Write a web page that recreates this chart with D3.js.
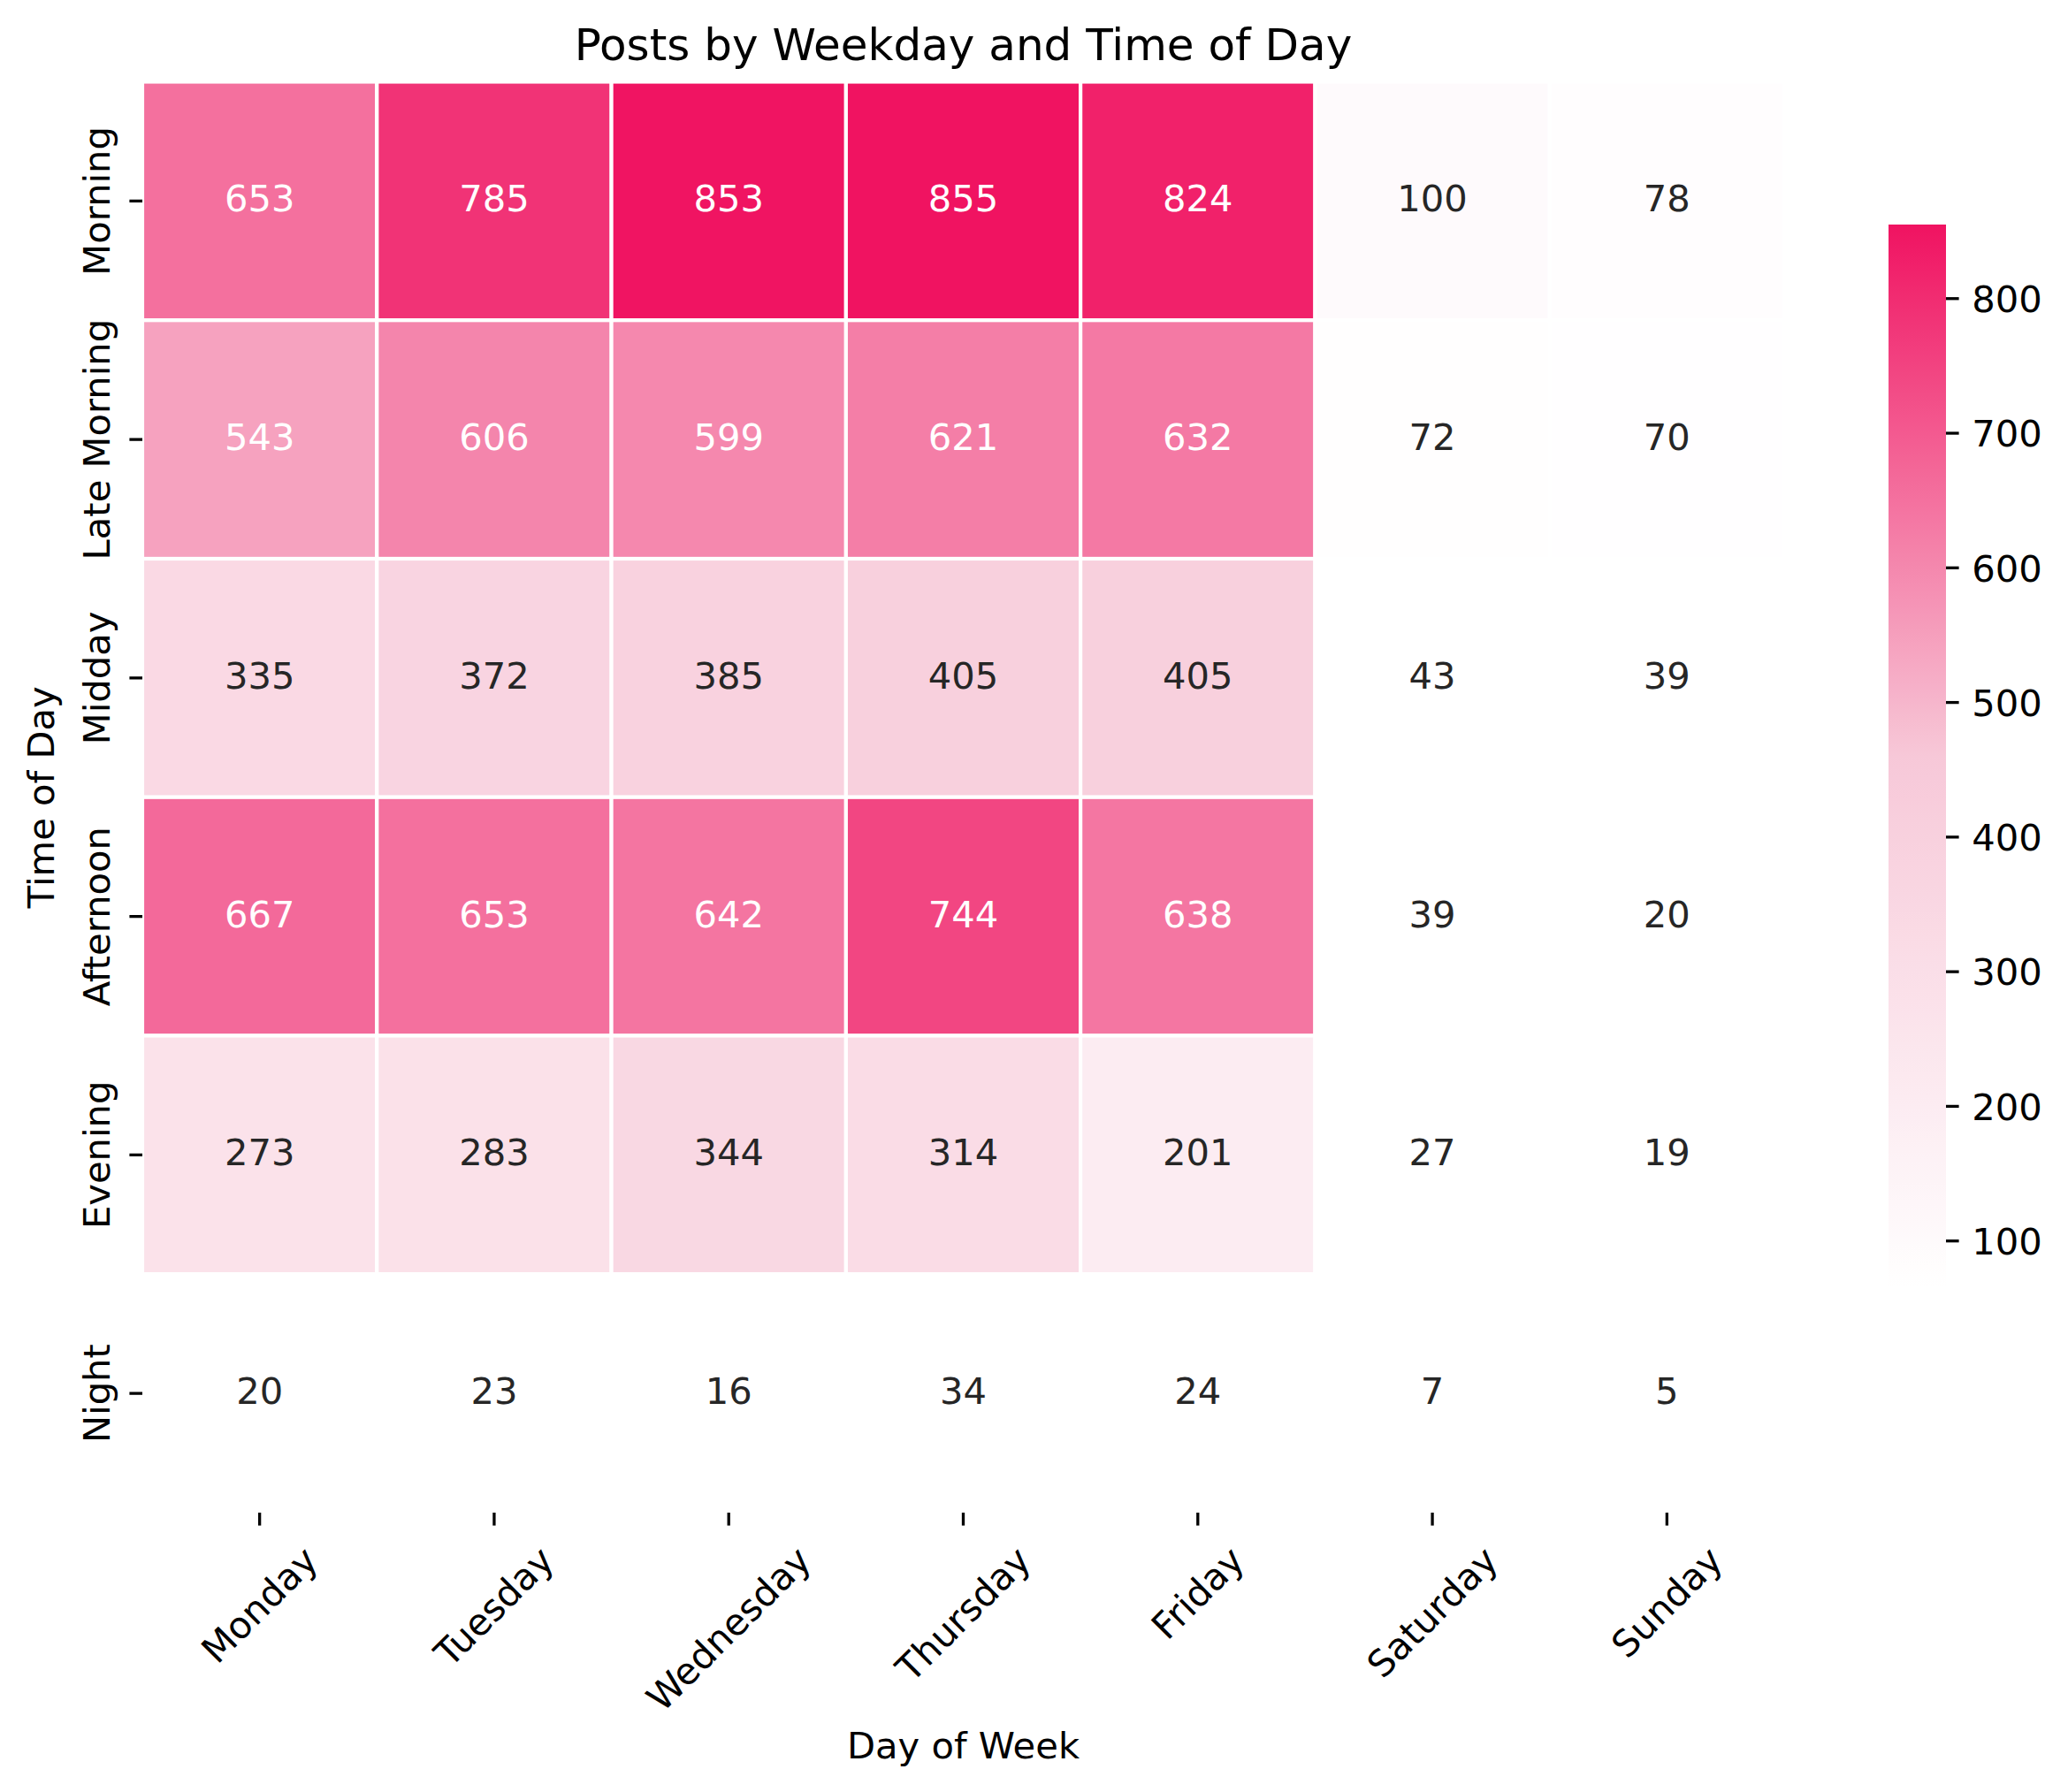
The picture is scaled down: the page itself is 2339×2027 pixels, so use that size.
<!DOCTYPE html>
<html>
<head>
<meta charset="utf-8">
<script src="https://cdn.jsdelivr.net/npm/d3@7"></script>
<style>
  html, body { margin: 0; padding: 0; background: #ffffff; }
  svg { display: block; }
  text { font-family: "DejaVu Sans", sans-serif; }
</style>
</head>
<body>
<svg id="chart" width="2339" height="2027"></svg>
<script>
// ---- data ----
const days = ["Monday", "Tuesday", "Wednesday", "Thursday", "Friday", "Saturday", "Sunday"];
const timesOfDay = ["Morning", "Late Morning", "Midday", "Afternoon", "Evening", "Night"];
const morning     = [653, 785, 853, 855, 824, 100, 78];
const lateMorning = [543, 606, 599, 621, 632, 72, 70];
const midday      = [335, 372, 385, 405, 405, 43, 39];
const afternoon   = [667, 653, 642, 744, 638, 39, 20];
const evening     = [273, 283, 344, 314, 201, 27, 19];
const night       = [20, 23, 16, 34, 24, 7, 5];
const colorbarTicks = [100, 200, 300, 400, 500, 600, 700, 800];
const colorMin = 65, colorMax = 855;

const rows = [morning, lateMorning, midday, afternoon, evening, night];
const cells = [];
rows.forEach((r, i) => r.forEach((v, j) => cells.push({ time: timesOfDay[i], day: days[j], value: v })));

// ---- layout ----
const svg = d3.select("#chart");
const W = 2339, H = 2027;
svg.append("rect").attr("width", W).attr("height", H).attr("fill", "#ffffff");

const ax = { left: 161, right: 2018, top: 92.5, bottom: 1711 };
const fs = 41.67;
const tickLen = 14.6, tickW = 3.3;

const x = d3.scaleBand().domain(days).range([ax.left, ax.right]).padding(0);
const y = d3.scaleBand().domain(timesOfDay).range([ax.top, ax.bottom]).padding(0);

const color = d3.scaleLinear()
  .domain([colorMin, (colorMin + colorMax) / 2, colorMax])
  .range(["#ffffff", "#f7c8d8", "#f01361"])
  .interpolate(d3.interpolateRgb)
  .clamp(true);

function lum(c) {
  const rgb = d3.rgb(c);
  const f = v => { v /= 255; return v <= 0.03928 ? v / 12.92 : Math.pow((v + 0.055) / 1.055, 2.4); };
  return 0.2126 * f(rgb.r) + 0.7152 * f(rgb.g) + 0.0722 * f(rgb.b);
}

// ---- cells ----
svg.append("g").selectAll("rect").data(cells).join("rect")
  .attr("x", d => x(d.day))
  .attr("y", d => y(d.time))
  .attr("width", x.bandwidth())
  .attr("height", y.bandwidth())
  .attr("fill", d => color(d.value))
  .attr("stroke", "#ffffff")
  .attr("stroke-width", 4.17);

// ---- annotations ----
svg.append("g").selectAll("text").data(cells).join("text")
  .attr("x", d => x(d.day) + x.bandwidth() / 2)
  .attr("y", d => y(d.time) + y.bandwidth() / 2 + 12)
  .attr("text-anchor", "middle")
  .attr("font-size", fs)
  .attr("fill", d => lum(color(d.value)) > 0.6 ? "#262626" : "#ffffff")
  .text(d => d.value);

// ---- y axis ----
const gy = svg.append("g");
timesOfDay.forEach(t => {
  const cy = y(t) + y.bandwidth() / 2;
  gy.append("line").attr("x1", ax.left - tickLen).attr("x2", ax.left)
    .attr("y1", cy).attr("y2", cy).attr("stroke", "#000").attr("stroke-width", tickW);
  gy.append("text").attr("transform", `translate(124,${cy}) rotate(-90)`)
    .attr("text-anchor", "middle").attr("font-size", fs).attr("fill", "#000").text(t);
});
svg.append("text").attr("transform", `translate(61,${(ax.top + ax.bottom) / 2}) rotate(-90)`)
  .attr("text-anchor", "middle").attr("font-size", fs).attr("fill", "#000").text("Time of Day");

// ---- x axis ----
const gx = svg.append("g");
days.forEach(dname => {
  const cx = x(dname) + x.bandwidth() / 2;
  gx.append("line").attr("x1", cx).attr("x2", cx)
    .attr("y1", ax.bottom).attr("y2", ax.bottom + tickLen).attr("stroke", "#000").attr("stroke-width", tickW);
  const t = gx.append("text").attr("text-anchor", "middle").attr("font-size", fs).attr("fill", "#000")
    .attr("x", 0).attr("y", 0.346 * fs).text(dname);
  const w = t.node().getComputedTextLength();
  const h = 1.164 * fs;
  const yc = ax.bottom + 2 * tickLen + (w + h) * Math.SQRT1_2 / 2;
  t.attr("transform", `translate(${cx},${yc}) rotate(-45)`);
});
svg.append("text").attr("x", (ax.left + ax.right) / 2).attr("y", 1989)
  .attr("text-anchor", "middle").attr("font-size", fs).attr("fill", "#000").text("Day of Week");

// ---- title ----
svg.append("text").attr("x", (ax.left + ax.right) / 2).attr("y", 68)
  .attr("text-anchor", "middle").attr("font-size", 50).attr("fill", "#000")
  .text("Posts by Weekday and Time of Day");

// ---- colorbar ----
const cb = { left: 2136, right: 2201, top: 254, bottom: 1457 };
const cbScale = d3.scaleLinear().domain([colorMin, colorMax]).range([cb.bottom, cb.top]);
const defs = svg.append("defs");
const grad = defs.append("linearGradient").attr("id", "cbgrad")
  .attr("x1", 0).attr("y1", 1).attr("x2", 0).attr("y2", 0);
d3.range(0, 1.0001, 0.02).forEach(p => {
  grad.append("stop").attr("offset", p).attr("stop-color", color(colorMin + p * (colorMax - colorMin)));
});
svg.append("rect").attr("x", cb.left).attr("y", cb.top)
  .attr("width", cb.right - cb.left).attr("height", cb.bottom - cb.top)
  .attr("fill", "url(#cbgrad)");
const gcb = svg.append("g");
colorbarTicks.forEach(v => {
  const ty = cbScale(v);
  gcb.append("line").attr("x1", cb.right).attr("x2", cb.right + tickLen)
    .attr("y1", ty).attr("y2", ty).attr("stroke", "#000").attr("stroke-width", tickW);
  gcb.append("text").attr("x", cb.right + 2 * tickLen).attr("y", ty + 15.2)
    .attr("font-size", fs).attr("fill", "#000").text(v);
});
</script>
</body>
</html>
